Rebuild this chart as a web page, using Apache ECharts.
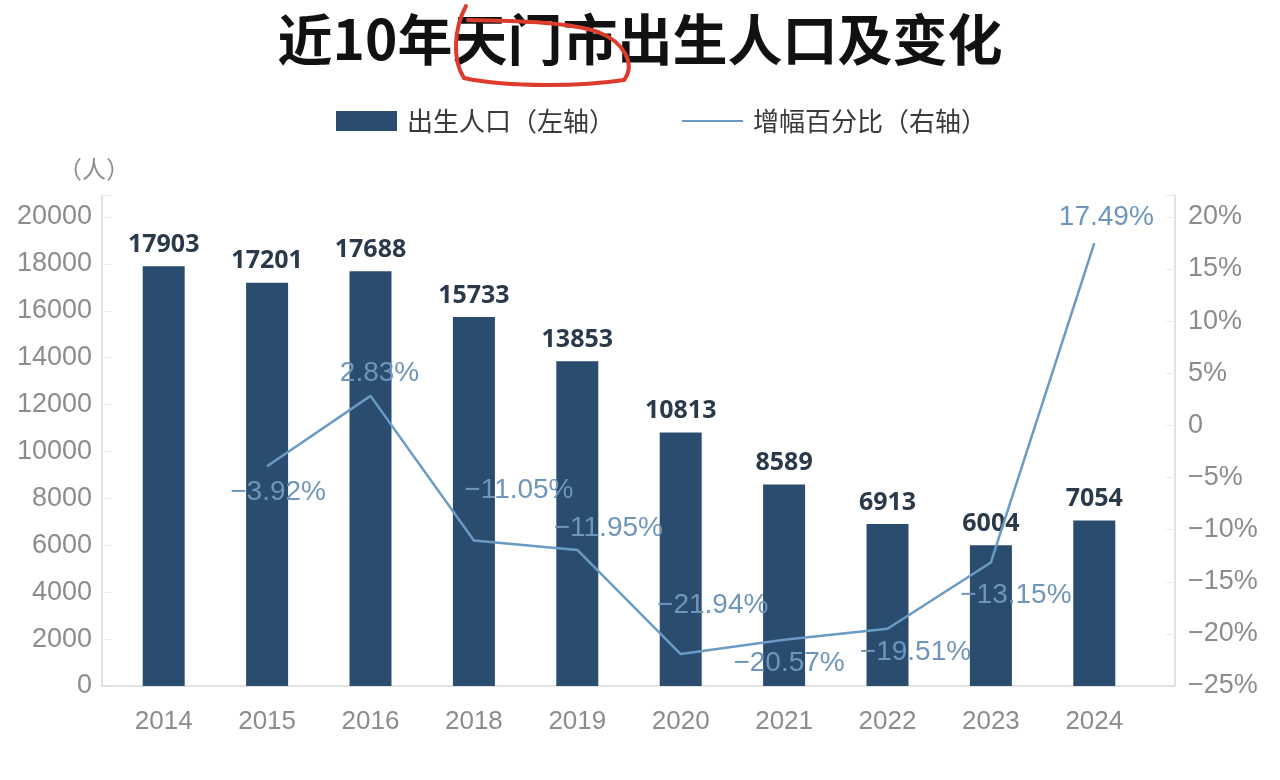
<!DOCTYPE html>
<html>
<head>
<meta charset="utf-8">
<title>近10年天门市出生人口及变化</title>
<script src="https://cdn.jsdelivr.net/npm/echarts@6/dist/echarts.min.js"></script>
<style>
  html, body { margin: 0; padding: 0; background: #fff; }
  #chart { width: 1280px; height: 780px; }
</style>
</head>
<body>
<div id="chart"></div>
<script>
// 数据
var years = ['2014', '2015', '2016', '2018', '2019', '2020', '2021', '2022', '2023', '2024']
var births = [17903, 17201, 17688, 15733, 13853, 10813, 8589, 6913, 6004, 7054]
var growthPct = [null, -3.92, 2.83, -11.05, -11.95, -21.94, -20.57, -19.51, -13.15, 17.49]

// 折线标签的偏移（样式）
var pctLabelOffsets = [
  [0, 0], [11, 26], [9, -23], [45, -50], [31, -22],
  [32, -49], [5, 23], [28, 24], [25, 33], [12, -26]
]

var font = "'Liberation Sans', 'Noto Sans CJK SC', sans-serif"
var barColor = '#2a4c6f'
var lineColor = '#6a9bc4'
var labelBlue = '#6f96ba'
var axisGray = '#8c8c8c'
var redPen = { fill: null, stroke: '#dd3b2c', lineWidth: 4, lineCap: 'round' }

function minus(s) {
  return String(s).replace('-', '\u2212')
}

var chart = echarts.init(document.getElementById('chart'))

var pctData = growthPct.map(function(v, i) {
  return {
    value: v,
    label: { offset: pctLabelOffsets[i] }
  }
})

var option = {
  backgroundColor: '#fff',
  textStyle: { fontFamily: font },
  title: {
    text: '近10年天门市出生人口及变化',
    left: 'center',
    top: 7,
    textStyle: {
      fontFamily: "'Noto Sans CJK SC', sans-serif",
      fontSize: 55,
      fontWeight: 'bold',
      color: '#111'
    }
  },
  legend: {
    left: 331,
    top: 103,
    itemWidth: 61,
    itemHeight: 20,
    itemGap: 66,
    textStyle: {
      fontFamily: "'Noto Sans CJK SC', sans-serif",
      fontSize: 26,
      color: '#3a3a3a',
      padding: [0, 0, 0, 5]
    },
    data: [
      { name: '出生人口（左轴）', icon: 'rect' },
      { name: '增幅百分比（右轴）' }
    ]
  },
  grid: {
    left: 112,
    right: 134,
    top: 195,
    bottom: 94
  },
  xAxis: {
    type: 'category',
    data: years,
    axisLine: { show: false },
    axisTick: { show: false },
    axisLabel: {
      margin: 23,
      fontSize: 26,
      color: axisGray
    }
  },
  yAxis: [
    {
      type: 'value',
      name: '（人）',
      nameLocation: 'end',
      nameGap: 14,
      nameTextStyle: {
        fontFamily: "'Noto Sans CJK SC', sans-serif",
        fontSize: 24,
        color: axisGray,
        padding: [0, 16, 0, 0]
      },
      min: 0,
      max: 20938,
      interval: 2000,
      offset: 10,
      axisLine: { show: true, lineStyle: { color: '#d9d9d9', width: 1.5 } },
      axisTick: { show: true, inside: true, length: 9, lineStyle: { color: '#ececec' } },
      splitLine: { show: false },
      axisLabel: {
        margin: 10,
        fontSize: 27,
        color: axisGray,
        formatter: function(v) {
          return v % 2000 === 0 ? String(v) : ''
        }
      }
    },
    {
      type: 'value',
      min: -25,
      max: 22.1,
      interval: 5,
      offset: 29,
      position: 'right',
      axisLine: { show: true, lineStyle: { color: '#d9d9d9', width: 1.5 } },
      axisTick: { show: true, inside: true, length: 9, lineStyle: { color: '#ececec' } },
      splitLine: { show: false },
      axisLabel: {
        margin: 13,
        fontSize: 27,
        color: axisGray,
        formatter: function(v) {
          if (v % 5 !== 0) return ''
          return v === 0 ? '0' : minus(v + '%')
        }
      }
    }
  ],
  graphic: [
    {
      type: 'line',
      shape: { x1: 102, y1: 686, x2: 1175, y2: 686 },
      style: { stroke: '#d9d9d9', lineWidth: 1.5 },
      z: 1
    },
    // 标题上的红色手绘圈
    {
      type: 'bezierCurve',
      shape: { x1: 466, y1: 6, cpx1: 454, cpy1: 28, cpx2: 452, cpy2: 60, x2: 464, y2: 78 },
      style: redPen,
      z: 10
    },
    {
      type: 'bezierCurve',
      shape: { x1: 464, y1: 78, cpx1: 510, cpy1: 88, cpx2: 585, cpy2: 86, x2: 624, y2: 80 },
      style: redPen,
      z: 10
    },
    {
      type: 'bezierCurve',
      shape: { x1: 624, y1: 80, cpx1: 636, cpy1: 64, cpx2: 624, cpy2: 42, x2: 598, y2: 32 },
      style: redPen,
      z: 10
    },
    {
      type: 'bezierCurve',
      shape: { x1: 598, y1: 32, cpx1: 565, cpy1: 21, cpx2: 505, cpy2: 21, x2: 468, y2: 20 },
      style: redPen,
      z: 10
    }
  ],
  series: [
    {
      name: '出生人口（左轴）',
      type: 'bar',
      yAxisIndex: 0,
      barWidth: 42,
      itemStyle: { color: barColor },
      label: {
        show: true,
        position: 'top',
        distance: 9,
        fontSize: 25,
        fontWeight: 'bold',
        color: '#2b3a4b',
        fontFamily: "'Noto Sans', sans-serif"
      },
      data: births
    },
    {
      name: '增幅百分比（右轴）',
      type: 'line',
      yAxisIndex: 1,
      symbol: 'circle',
      symbolSize: 1,
      showSymbol: true,
      connectNulls: false,
      lineStyle: { color: lineColor, width: 2.5 },
      itemStyle: { color: 'rgba(0,0,0,0)', borderWidth: 0 },
      label: {
        show: true,
        position: 'inside',
        fontSize: 28,
        color: labelBlue,
        formatter: function(p) {
          return minus(p.value.toFixed(2) + '%')
        }
      },
      z: 5,
      data: pctData
    }
  ]
}

chart.setOption(option)
</script>
</body>
</html>
